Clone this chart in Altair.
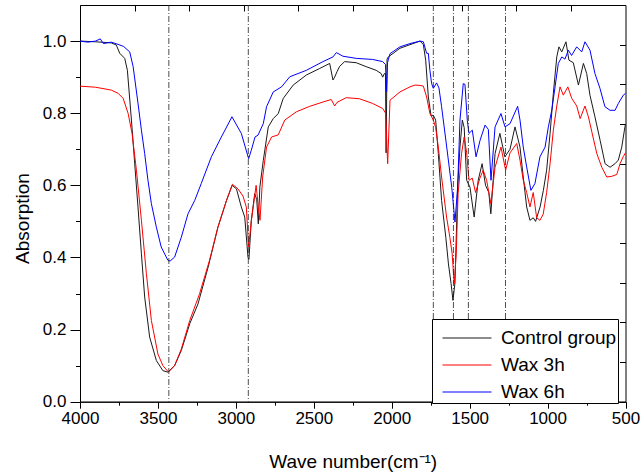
import altair as alt
import pandas as pd

# ---------------- data ----------------
control_wn = [4000, 3900, 3800, 3767, 3745, 3713, 3696, 3670, 3649, 3628, 3606, 3585, 3553, 3510,
              3468, 3436, 3393, 3350, 3296, 3243, 3178, 3115, 3060, 3024, 2996, 2965, 2943, 2922,
              2916, 2901, 2879, 2866, 2856, 2846, 2824, 2792, 2760, 2728, 2696, 2632, 2547, 2462,
              2398, 2377, 2366, 2351, 2334, 2302, 2228, 2164, 2100, 2068, 2058, 2047, 2040, 2036,
              2030, 2022, 1947, 1818, 1797, 1782, 1765, 1748, 1733, 1718, 1701, 1680, 1653, 1636,
              1619, 1607, 1594, 1577, 1562, 1547, 1535, 1519, 1498, 1471, 1445, 1420, 1398, 1377,
              1364, 1337, 1306, 1274, 1241, 1209, 1177, 1156, 1134, 1113, 1092, 1077, 1048, 1027,
              1006, 984, 963, 941, 927, 909, 882, 863, 835, 802, 770, 749, 728, 696, 663, 631,
              599, 567, 546, 524, 507, 500]
control_abs = [1.0, 0.998, 0.995, 0.989, 0.966, 0.952, 0.919, 0.781, 0.66, 0.54, 0.41, 0.29, 0.179, 0.114,
               0.086, 0.082, 0.1, 0.142, 0.216, 0.271, 0.373, 0.484, 0.558, 0.6, 0.59, 0.54, 0.512, 0.40,
               0.395, 0.503, 0.577, 0.56, 0.493, 0.595, 0.669, 0.762, 0.785, 0.799, 0.841, 0.878, 0.906, 0.924,
               0.938, 0.892, 0.9, 0.915, 0.93, 0.943, 0.94, 0.929, 0.919, 0.91, 0.9, 0.91, 0.91, 0.69,
               0.95, 0.956, 0.98, 1.0, 0.99, 0.947, 0.845, 0.794, 0.794, 0.781, 0.688, 0.558, 0.456, 0.382,
               0.327, 0.281, 0.33, 0.595, 0.706, 0.781, 0.76, 0.614, 0.595, 0.512, 0.614, 0.66, 0.6, 0.58,
               0.521, 0.688, 0.744, 0.679, 0.7, 0.762, 0.706, 0.623, 0.54, 0.503, 0.51, 0.50, 0.54, 0.586,
               0.642, 0.744, 0.855, 0.956, 0.984, 0.97, 0.998, 0.947, 0.94, 0.878, 0.938, 0.91, 0.85, 0.79, 0.725, 0.66,
               0.65, 0.66, 0.67, 0.706, 0.753, 0.77]

wax3_wn = [4000, 3900, 3799, 3755, 3723, 3691, 3666, 3638, 3606, 3574, 3542, 3500, 3468, 3432,
           3393, 3350, 3296, 3233, 3169, 3115, 3060, 3022, 2986, 2954, 2933, 2918, 2901, 2870,
           2856, 2845, 2828, 2803, 2771, 2728, 2686, 2611, 2526, 2441, 2388, 2366, 2351, 2292,
           2207, 2122, 2058, 2039, 2026, 2011, 1947, 1883, 1850, 1818, 1797, 1776, 1755, 1733,
           1718, 1701, 1680, 1648, 1627, 1612, 1599, 1586, 1574, 1552, 1535, 1519, 1504, 1483,
           1462, 1434, 1413, 1391, 1364, 1337, 1299, 1269, 1241, 1198, 1177, 1156, 1134, 1113,
           1092, 1070, 1049, 1028, 1006, 984, 963, 941, 920, 899, 870, 845, 813, 791, 760, 738,
           717, 684, 652, 620, 588, 556, 535, 514, 500]
wax3_abs = [0.875, 0.872, 0.864, 0.855, 0.841, 0.799, 0.744, 0.642, 0.503, 0.355, 0.225, 0.132, 0.1, 0.082,
            0.1, 0.146, 0.225, 0.299, 0.392, 0.484, 0.558, 0.603, 0.59, 0.57, 0.54, 0.429, 0.5, 0.60,
            0.54, 0.503, 0.623, 0.706, 0.734, 0.74, 0.781, 0.804, 0.819, 0.831, 0.838, 0.82, 0.83, 0.843,
            0.84, 0.827, 0.813, 0.80, 0.66, 0.836, 0.859, 0.873, 0.878, 0.877, 0.875, 0.845, 0.799, 0.781,
            0.76, 0.706, 0.623, 0.512, 0.456, 0.41, 0.327, 0.41, 0.577, 0.688, 0.734, 0.69, 0.614, 0.62,
            0.58, 0.62, 0.642, 0.614, 0.549, 0.65, 0.706, 0.642, 0.69, 0.716, 0.67, 0.614, 0.58, 0.54,
            0.58, 0.51, 0.503, 0.52, 0.58, 0.66, 0.753, 0.82, 0.873, 0.85, 0.873, 0.841, 0.82, 0.785, 0.82, 0.79,
            0.75, 0.688, 0.65, 0.623, 0.625, 0.63, 0.66, 0.68, 0.69]

wax6_wn = [4000, 3950, 3900, 3870, 3850, 3800, 3750, 3720, 3681, 3659, 3628, 3606, 3585, 3564,
           3542, 3510, 3479, 3436, 3422, 3393, 3350, 3307, 3264, 3222, 3157, 3093, 3025, 2965,
           2918, 2901, 2877, 2858, 2824, 2803, 2760, 2707, 2654, 2547, 2441, 2377, 2355, 2313,
           2228, 2122, 2058, 2040, 2033, 2027, 2011, 1947, 1883, 1818, 1797, 1776, 1765, 1755,
           1744, 1733, 1712, 1697, 1680, 1647, 1615, 1594, 1577, 1562, 1541, 1530, 1515, 1504,
           1483, 1459, 1433, 1401, 1380, 1363, 1337, 1299, 1273, 1241, 1192, 1177, 1156, 1134,
           1107, 1081, 1049, 1016, 995, 973, 952, 931, 909, 888, 867, 846, 813, 781, 760, 728,
           696, 664, 632, 599, 567, 546, 514, 500]
wax6_abs = [1.0, 0.997, 1.0, 1.006, 0.993, 0.997, 0.99, 0.985, 0.97, 0.929, 0.828, 0.753, 0.688, 0.614,
            0.549, 0.484, 0.429, 0.392, 0.39, 0.401, 0.456, 0.521, 0.558, 0.605, 0.679, 0.734, 0.79, 0.744,
            0.674, 0.697, 0.734, 0.739, 0.771, 0.818, 0.859, 0.873, 0.901, 0.919, 0.943, 0.956, 0.968, 0.958,
            0.952, 0.949, 0.943, 0.935, 0.86, 0.94, 0.965, 0.984, 0.993, 1.0, 0.998, 0.966, 0.966, 0.919,
            0.882, 0.869, 0.884, 0.87, 0.818, 0.706, 0.595, 0.498, 0.595, 0.781, 0.882, 0.88, 0.78, 0.744,
            0.753, 0.679, 0.725, 0.767, 0.755, 0.614, 0.762, 0.799, 0.762, 0.771, 0.819, 0.781, 0.706, 0.651,
            0.586, 0.605, 0.679, 0.706, 0.762, 0.808, 0.873, 0.938, 0.956, 0.95, 0.975, 0.96, 0.984, 0.97, 0.998, 0.975,
            0.91, 0.869, 0.818, 0.808, 0.808, 0.827, 0.85, 0.855]

series_names = ["Control group", "Wax 3h", "Wax 6h"]
series_colors = ["#1a1a1a", "#ff0000", "#0000ff"]
series_widths = [1.0, 1.0, 2.4]

vline_wn = [3430, 2920, 1733, 1604, 1508, 1270]          # dash-dot marker lines
x_ticks = [4000, 3750, 3500, 3250, 3000, 2750, 2500, 2250, 2000, 1750, 1500, 1250, 1000, 750, 500]
y_ticks = [0.0, 0.1, 0.2, 0.3, 0.4, 0.5, 0.6, 0.7, 0.8, 0.9, 1.0]
top_ticks = [3650, 3300, 2950, 2600, 2250, 1900, 1550, 1200, 850]
right_ticks = [0.0, 0.11, 0.22, 0.33, 0.44, 0.55, 0.66, 0.77, 0.88, 0.99]

# ---------------- tables ----------------
frames = []
for i, (name, wn, ab) in enumerate(zip(series_names,
                                       [control_wn, wax3_wn, wax6_wn],
                                       [control_abs, wax3_abs, wax6_abs])):
    frames.append(pd.DataFrame({"wn": wn, "abs": ab, "series": name, "order": range(len(wn)), "s": i}))
df = pd.concat(frames, ignore_index=True)
vdf = pd.DataFrame({"wn": vline_wn})
rdf = pd.DataFrame({"v": right_ticks})

FONT = "Arial"
xscale = alt.Scale(domain=[4000, 500], nice=False, zero=False)
yscale = alt.Scale(domain=[0, 1.1], nice=False, zero=False)

lines = alt.Chart(df).mark_line(interpolate="linear").encode(
    x=alt.X("wn:Q", scale=xscale,
            axis=alt.Axis(values=x_ticks, format="d",
                          labelExpr="datum.value % 500 == 0 ? datum.label : ''",
                          tickSize={"condition": {"test": "datum.value % 500 == 0", "value": 6.5}, "value": 3.5},
                          title="Wave number(cm⁻¹)", grid=False, labelOverlap=False, labelFlush=False,
                          labelBound=False, labelPadding=2, titlePadding=26, titleFontSize=19)),
    y=alt.Y("abs:Q", scale=yscale,
            axis=alt.Axis(values=y_ticks,
                          labelExpr="round(datum.value*10) % 2 == 0 ? format(datum.value, '.1f') : ''",
                          tickSize={"condition": {"test": "round(datum.value*10) % 2 == 0", "value": 10}, "value": 4.5},
                          title="Absorption", grid=False, labelOverlap=False, labelFlush=False,
                          labelPadding=4, titlePadding=10, titleY=213, titleFontSize=19)),
    color=alt.Color("series:N", scale=alt.Scale(domain=series_names, range=series_colors),
                    legend=alt.Legend(title=" ", orient="none", legendX=352, legendY=314,
                                      direction="vertical")),
    strokeWidth=alt.StrokeWidth("series:N", scale=alt.Scale(domain=series_names, range=series_widths),
                                legend=None),
    detail="series:N",
    order="order:Q",
)

vlines = alt.Chart(vdf).mark_rule(color="#222222", strokeWidth=0.8, strokeDash=[6, 2, 1, 2]).encode(
    x=alt.X("wn:Q", scale=xscale,
            axis=alt.Axis(orient="top", values=top_ticks, labels=False, title=None, domain=False,
                          grid=False, tickSize=6, offset=-6)),
)

right_axis = alt.Chart(rdf).mark_point(opacity=0).encode(
    y=alt.Y("v:Q", scale=yscale,
            axis=alt.Axis(orient="right", values=right_ticks, labels=False, title=None, domain=False,
                          grid=False, tickSize=6, offset=-6)),
)

chart = alt.layer(lines, vlines, right_axis).resolve_axis(
    x="independent", y="independent"
).properties(
    width=545.5, height=396.7,
    autosize=alt.AutoSizeParams(type="none"),
    padding={"left": 80, "top": 5, "right": 18.5, "bottom": 71.3},
    background="white",
).configure_view(
    stroke="black", strokeWidth=1
).configure_axis(
    labelFont=FONT, titleFont=FONT, labelFontSize=17, titleFontSize=18,
    labelColor="black", titleColor="black", titleFontWeight="normal",
    domainColor="black", tickColor="black", domainWidth=1, tickWidth=1,
).configure_legend(
    labelFont=FONT, labelFontSize=19, labelColor="black",
    titleFont=FONT, titleFontSize=6, titlePadding=2,
    symbolType="stroke", symbolSize=2401, symbolStrokeWidth=1.2,
    labelOffset=9, padding=1, rowPadding=7, symbolOffset=9, clipHeight=20,
    strokeColor="black", fillColor="white", cornerRadius=0, labelLimit=300,
)

chart.save("out.html", embed_options={"renderer": "svg", "actions": False})
